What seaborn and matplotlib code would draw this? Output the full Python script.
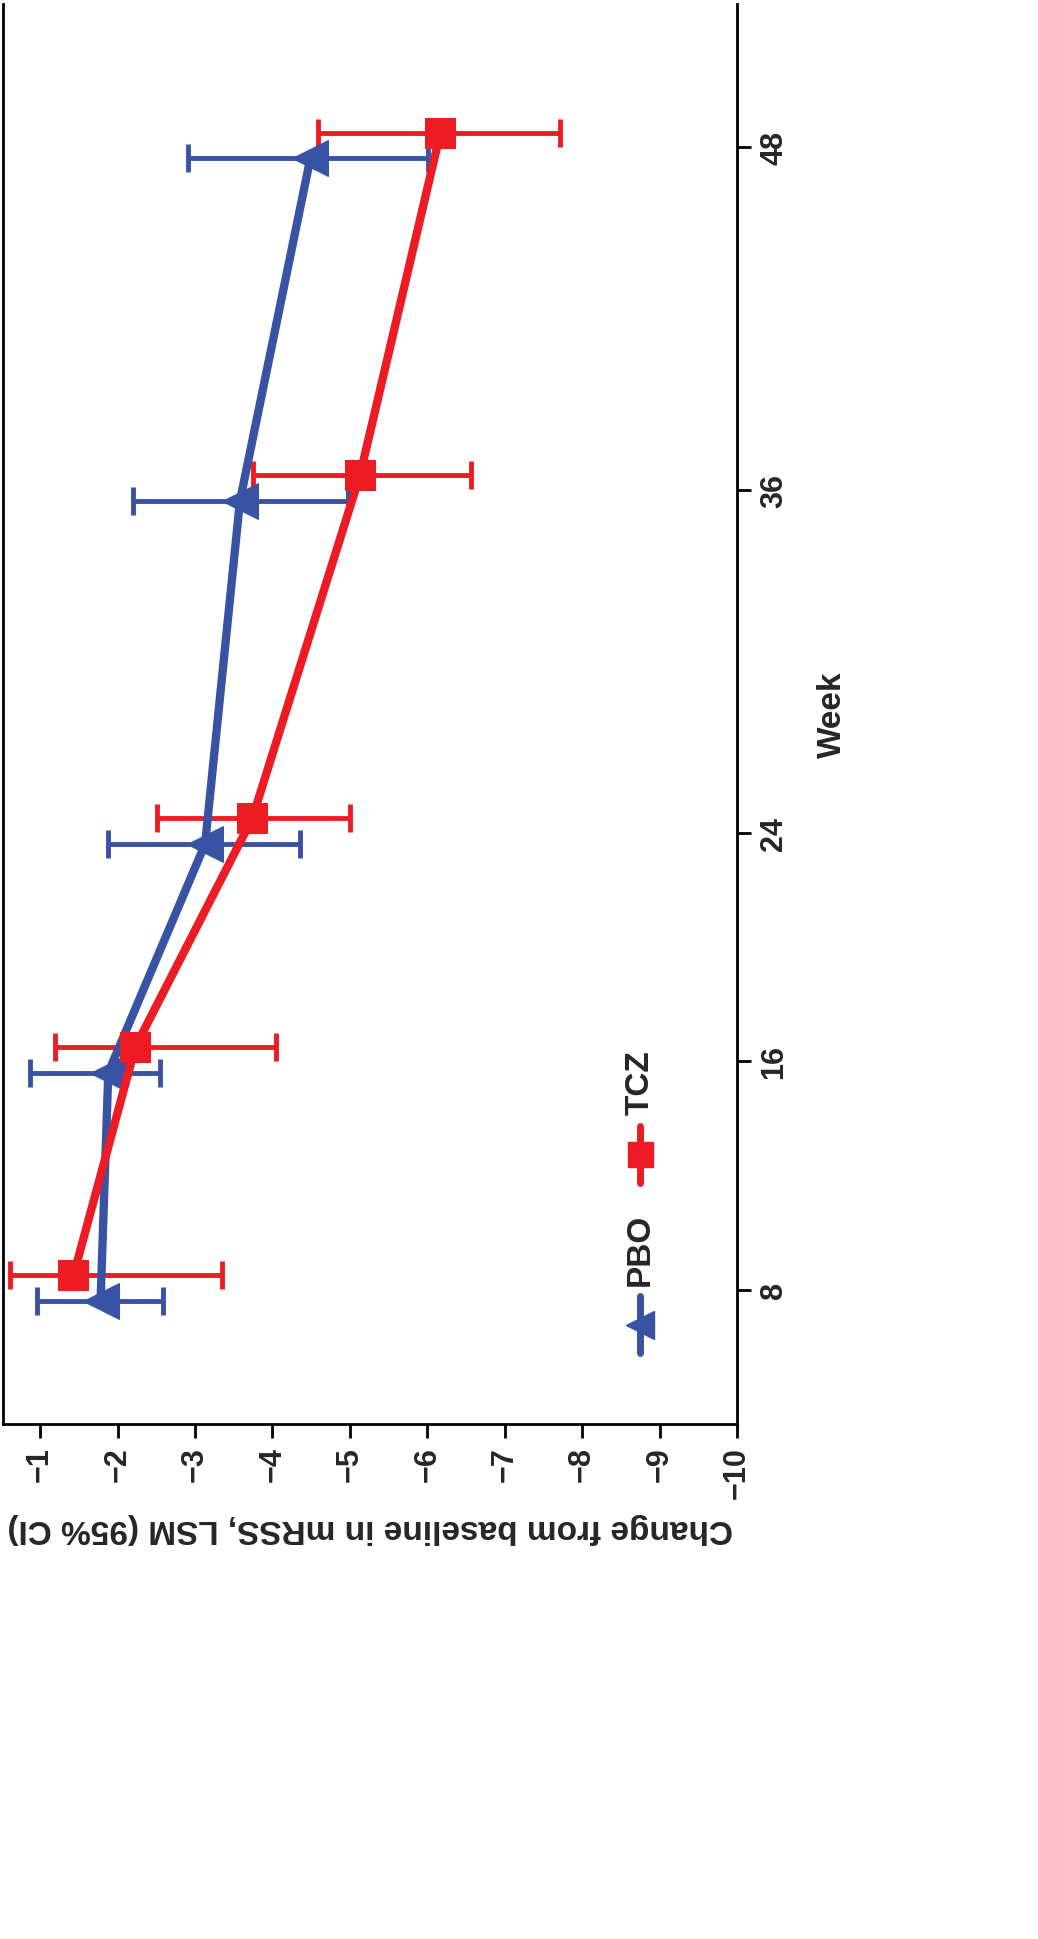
import matplotlib
matplotlib.use("Agg")
import matplotlib.pyplot as plt
import seaborn as sns
import pandas as pd

weeks = [8, 16, 24, 36, 48]
pbo_mean = [-1.78, -1.88, -3.13, -3.58, -4.49]
pbo_lo = [-0.96, -0.87, -1.88, -2.20, -2.91]
pbo_hi = [-2.59, -2.55, -4.36, -4.97, -6.01]
tcz_mean = [-1.43, -2.23, -3.74, -5.13, -6.17]
tcz_lo = [-0.61, -1.19, -2.51, -3.75, -4.59]
tcz_hi = [-3.35, -4.04, -5.00, -6.56, -7.72]
xticks = [-1, -2, -3, -4, -5, -6, -7, -8, -9, -10]

sns.set_style("white")
plt.rcParams['font.family'] = ['Liberation Sans', 'DejaVu Sans']
plt.rcParams['font.weight'] = 'bold'

blue = '#3853a4'
red = '#ed1c24'

fig = plt.figure(figsize=(10.38, 19.4), dpi=100)
ax = fig.add_axes([3/1038, 1-1425/1940, 734/1038, 1420/1940])

series = [("PBO", pbo_mean, pbo_lo, pbo_hi, blue, '<', -0.4, 26),
          ("TCZ", tcz_mean, tcz_lo, tcz_hi, red, 's', 0.5, 22)]
for name, m, lo, hi, c, mk, off, ms in series:
    wk = [w + off for w in weeks]
    df = pd.DataFrame({"chg": m, "wk": wk})
    for w, l, h in zip(wk, lo, hi):
        ax.errorbar([(l + h) / 2], [w], xerr=[[abs(h - l) / 2], [abs(h - l) / 2]],
                    fmt='none', ecolor=c, elinewidth=3.5, capsize=10, capthick=3.5, zorder=2)
    sns.lineplot(data=df, x="chg", y="wk", sort=False, orient="y", color=c, lw=6,
                 marker=mk, markersize=ms, markeredgecolor=c, ax=ax, zorder=3)

ax.set_xlim(-0.52, -10)
ax.set_ylim(3.3, 53)
ax.set_xticks(xticks)
ax.set_xticklabels(["\u2212%d" % abs(v) for v in xticks], rotation=90, fontsize=22, fontweight='bold')
ax.yaxis.tick_right()
ax.yaxis.set_label_position("right")
ax.set_yticks(weeks)
ax.set_yticklabels([str(w) for w in weeks], rotation=90, va='center', fontsize=22, fontweight='bold')
ax.tick_params(axis='both', direction='out', length=10, width=2, color='black', pad=6)
ax.tick_params(axis='x', bottom=True)
ax.tick_params(axis='y', right=True, left=False)
for s in ['left', 'bottom', 'right']:
    ax.spines[s].set_linewidth(2)
    ax.spines[s].set_color('black')
ax.spines['top'].set_visible(False)
ax.set_xlabel("Change from baseline in mRSS, LSM (95% CI)", fontsize=24, fontweight='bold',
              rotation=180, labelpad=10)
ax.set_ylabel("Week", fontsize=24, fontweight='bold', rotation=90, labelpad=20)

# legend (rotated)
for (name, c, mk, ms, yc) in [("PBO", blue, '<', 20, 0.07), ("TCZ", red, 's', 18, 0.19)]:
    ax.plot([0.868, 0.868], [yc - 0.02, yc + 0.02], transform=ax.transAxes, color=c, lw=5)
    ax.plot([0.868], [yc], transform=ax.transAxes, marker=mk, color=c, markersize=ms)
    ax.text(0.868, yc + 0.028, name, transform=ax.transAxes, rotation=90, ha='center',
            va='bottom', fontsize=24, fontweight='bold')
ax.get_legend().remove() if ax.get_legend() else None

fig.savefig("out.png", dpi=100)
